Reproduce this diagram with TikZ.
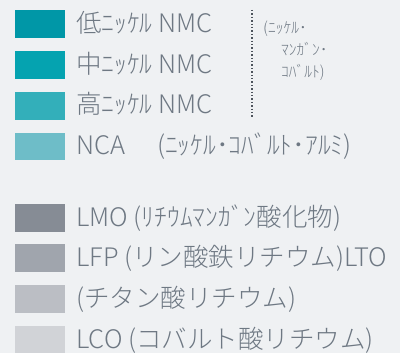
\documentclass[tikz,border=0pt]{standalone}
\usepackage{fontspec}
\setmainfont{Noto Sans CJK JP}[UprightFont=* Light]
\definecolor{bg}{HTML}{EFF1F3}
\definecolor{txt}{HTML}{6E7883}
\definecolor{cA}{HTML}{0097A7}
\definecolor{cB}{HTML}{05A3B0}
\definecolor{cC}{HTML}{33AFBA}
\definecolor{cD}{HTML}{6EBDC8}
\definecolor{gA}{HTML}{868C95}
\definecolor{gB}{HTML}{A0A5AD}
\definecolor{gC}{HTML}{BBBEC4}
\definecolor{gD}{HTML}{D1D3D7}
\begin{document}
\begin{tikzpicture}[x=1pt,y=-1pt,
  swatch/.style={minimum width=50pt,minimum height=27.5pt,inner sep=0pt,anchor=north west},
  lab/.style={anchor=base west,inner sep=0pt,text=txt,font=\fontsize{25.5}{28}\selectfont},
  small/.style={anchor=base west,inner sep=0pt,text=txt,font=\fontsize{15.5}{17}\selectfont}]
\fill[bg] (0,0) rectangle (400,353);
\useasboundingbox (0,0) rectangle (400,353);
\node[swatch,fill=cA] (s1) at (15,10) {};
\node[swatch,fill=cB] (s2) at (15,51) {};
\node[swatch,fill=cC] (s3) at (15,92) {};
\node[swatch,fill=cD] (s4) at (15,132.5) {};
\node[swatch,fill=gA] (s5) at (15,204) {};
\node[swatch,fill=gB] (s6) at (15,244) {};
\node[swatch,fill=gC] (s7) at (15,285) {};
\node[swatch,fill=gD] (s8) at (15,326) {};
\node[lab] (t1) at (76,32.5) {低ﾆｯｹﾙ NMC};
\node[lab] (t2) at (76,73.5) {中ﾆｯｹﾙ NMC};
\node[lab] (t3) at (76,114) {高ﾆｯｹﾙ NMC};
\node[lab] (t4) at (76,154.5) {NCA};
\node[lab] (t4b) at (157,154.5) {(ﾆｯｹﾙ･ｺﾊﾞﾙﾄ･ｱﾙﾐ)};
\node[lab] (t5) at (76,226.5) {LMO (ﾘﾁｳﾑﾏﾝｶﾞﾝ酸化物)};
\node[lab] (t6) at (76,267) {LFP (リン酸鉄リチウム)LTO};
\node[lab] (t7) at (76,308) {(チタン酸リチウム)};
\node[lab] (t8) at (76,348.5) {LCO (コバルト酸リチウム)};
\coordinate (d1) at (252,10);
\coordinate (d2) at (252,118);
\draw[txt!70!black,line width=1.5pt,dash pattern=on 1.5pt off 1.9pt] (d1) -- (d2);
\node[small] (n1) at (263,34) {(ﾆｯｹﾙ･};
\node[small] (n2) at (281,56) {ﾏﾝｶﾞﾝ･};
\node[small] (n3) at (281,78) {ｺﾊﾞﾙﾄ)};
\end{tikzpicture}
\end{document}
